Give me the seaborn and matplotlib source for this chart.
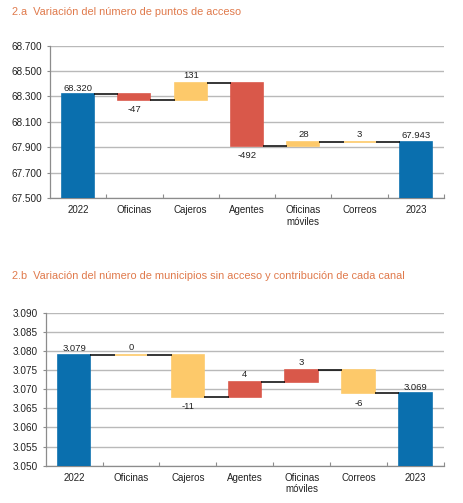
import numpy as np
import pandas as pd
import matplotlib
matplotlib.use("Agg")
import matplotlib.pyplot as plt
import seaborn as sns
from matplotlib.ticker import FuncFormatter, FixedLocator

# ---- data ----
categories = ["2022", "Oficinas", "Cajeros", "Agentes", "Oficinas\nmóviles", "Correos", "2023"]

title_a = "2.a  Variación del número de puntos de acceso"
start_a = 68320
changes_a = [-47, 131, -492, 28, 3]
end_a = 67943

title_b = "2.b  Variación del número de municipios sin acceso y contribución de cada canal"
start_b = 3079
changes_b = [0, -11, 4, 3, -6]
end_b = 3069

ylim_a = (67500, 68700)
yticks_a = list(range(67500, 68701, 200))
ylim_b = (3050, 3090)
yticks_b = list(range(3050, 3091, 5))

BLUE = "#0a6fae"
RED = "#d9584a"
YELLOW = "#fdc96a"
TITLE_C = "#e07a4c"
GRID_C = "#b9b9b9"

sns.set_theme(style="white")
plt.rcParams["font.family"] = ["Liberation Sans", "DejaVu Sans"]


def fmt(v, _=None):
    return f"{v:,.0f}".replace(",", ".")


def waterfall(ax, start, changes, end, ylim, yticks, up_color, down_color):
    tops, bottoms, cols, labels = [], [], [], []
    run = start
    tops.append(start); bottoms.append(0); cols.append(BLUE); labels.append(fmt(start))
    levels = [start]
    for c in changes:
        new = run + c
        tops.append(max(run, new)); bottoms.append(min(run, new))
        cols.append(up_color if c > 0 else down_color)
        labels.append(str(c))
        run = new
        levels.append(run)
    tops.append(end); bottoms.append(0); cols.append(BLUE); labels.append(fmt(end))
    heights = np.array(tops, float) - np.array(bottoms, float)
    df = pd.DataFrame({"cat": categories, "h": heights})
    sns.barplot(data=df, x="cat", y="h", bottom=np.array(bottoms, float),
                color=BLUE, width=0.57, ax=ax, saturation=1, zorder=3)
    patches = ax.patches
    for p, c in zip(patches, cols):
        p.set_facecolor(c)
        p.set_edgecolor(c)
        p.set_linewidth(1.2)
    w = 0.57
    # connectors
    for i, lv in enumerate(levels):
        ax.plot([i + w / 2, i + 1 - w / 2], [lv, lv], color="black", lw=1.1, zorder=4,
                solid_capstyle="butt")
    # labels
    for i, (t, b, lab) in enumerate(zip(tops, bottoms, labels)):
        if i == 0 or i == len(tops) - 1:
            ax.annotate(lab, (i, t), xytext=(0, 1), textcoords="offset points",
                        ha="center", va="bottom", fontsize=6.8, color="#222222", zorder=5)
        else:
            c = changes[i - 1]
            if c >= 0:
                ax.annotate(lab, (i, t), xytext=(0, 2), textcoords="offset points",
                            ha="center", va="bottom", fontsize=6.8, color="#222222", zorder=5)
            else:
                ax.annotate(lab, (i, b), xytext=(0, -4), textcoords="offset points",
                            ha="center", va="top", fontsize=6.8, color="#222222", zorder=5)
    ax.set_ylim(*ylim)
    ax.set_xlim(-0.5, len(categories) - 0.5)
    ax.set_yticks(yticks)
    ax.yaxis.set_major_formatter(FuncFormatter(fmt))
    ax.set_xlabel(""); ax.set_ylabel("")
    ax.yaxis.grid(True, color=GRID_C, lw=1.0, zorder=0)
    ax.set_axisbelow(True)
    for s in ["top", "right"]:
        ax.spines[s].set_visible(False)
    for s in ["left", "bottom"]:
        ax.spines[s].set_visible(True)
        ax.spines[s].set_color("#8c8c8c")
        ax.spines[s].set_linewidth(0.9)
    ax.tick_params(axis="y", which="major", length=2.5, width=0.8, color="#8c8c8c",
                   labelsize=7.2, labelcolor="#222222", pad=3, left=True)
    ax.tick_params(axis="x", which="major", length=0, labelsize=7, labelcolor="#222222", pad=5)
    ax.xaxis.set_minor_locator(FixedLocator(np.arange(0.5, len(categories), 1.0)))
    ax.tick_params(axis="x", which="minor", direction="in", length=3, width=0.8,
                   color="#8c8c8c", bottom=True)


fig = plt.figure(figsize=(4.63, 5.03), dpi=100)
ax1 = fig.add_axes([0.108, 0.6058, 0.851, 0.3037])
ax2 = fig.add_axes([0.0987, 0.0742, 0.860, 0.3042])

waterfall(ax1, start_a, changes_a, end_a, ylim_a, yticks_a, YELLOW, RED)
waterfall(ax2, start_b, changes_b, end_b, ylim_b, yticks_b, RED, YELLOW)

fig.text(12 / 463, 1 - 12 / 503, title_a, color=TITLE_C, fontsize=7.9, ha="left", va="center")
fig.text(12 / 463, 1 - 276 / 503, title_b, color=TITLE_C, fontsize=7.9, ha="left", va="center")

fig.savefig("out.png", dpi=100, facecolor="white")
